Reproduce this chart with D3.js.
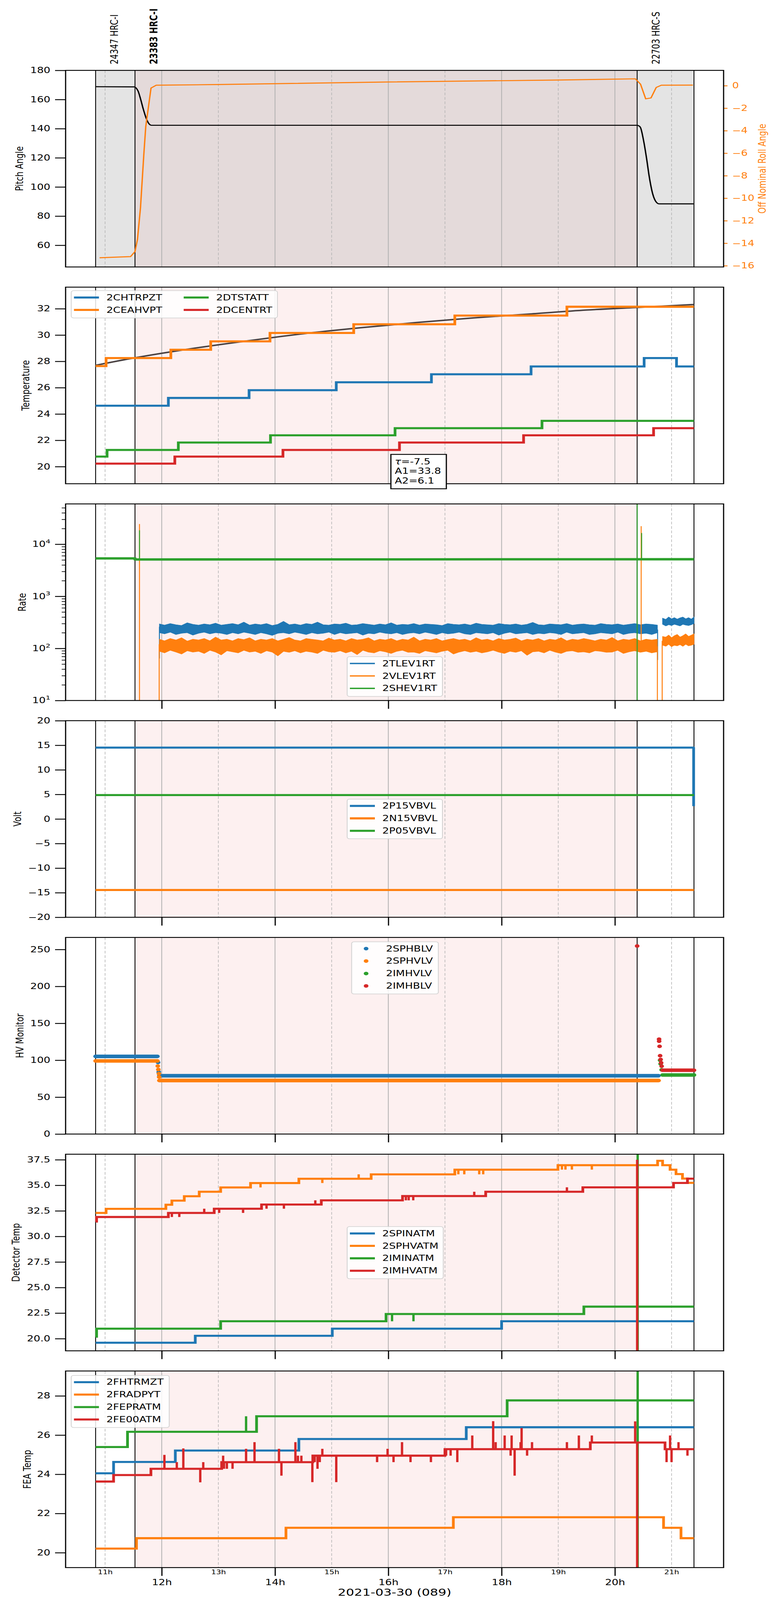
<!DOCTYPE html>
<html>
<head>
<meta charset="utf-8">
<script src="https://cdn.jsdelivr.net/npm/d3@7"></script>
<style>
  body { margin: 0; background: #fff; overflow: hidden; }
  svg { font-family: "DejaVu Sans", sans-serif; }
</style>
</head>
<body>
<script>
var width = 2000,
    height = 5400;

var left = 168, right = 1853, panelH = 663.5;
var tops = [237.5, 969.1, 1700.7, 2432.3, 3163.9, 3895.5, 4627.1];

var C = {blue: "#1f77b4", orange: "#ff7f0e", green: "#2ca02c", red: "#d62728"};

// observations (hours of 2021-03-30)
var obsIds = ["24347 HRC-I", "23383 HRC-I", "22703 HRC-S"];
var obsStart = [10.833, 11.528, 20.393];
var obsStop = [11.528, 20.393, 21.396];
var obsBold = [false, true, false];

var majorHours = [12, 14, 16, 18, 20];
var minorHours = [11, 13, 15, 17, 19, 21];

// panel 1: pitch / roll
var pitch = [[10.833,168.8],[11.51,168.7],[11.58,166],[11.626,160.4],[11.673,153.6],[11.73,146.7],[11.776,143.3],[11.82,142.3],
  [20.393,142.3],[20.446,141.2],[20.508,131.5],[20.56,119.4],[20.605,107.4],[20.667,95.3],[20.737,89.3],[20.781,88.4],[21.396,88.4]];
var roll = [[10.903,-15.29],[11.449,-15.19],[11.528,-14.74],[11.572,-13.65],[11.625,-10.84],[11.684,-6.1],[11.718,-3.64],[11.811,-0.21],
  [11.903,0.04],[13,0.1],[16,0.33],[19,0.5],[20.361,0.61],[20.453,0.13],[20.544,-1.17],[20.637,-1.09],[20.729,-0.16],[20.82,0.04],[21.377,0.05]];

// panel 2: temperatures
var chtrpzt = [[10.833,24.63],[12.117,25.22],[13.542,25.81],[15.081,26.41],[16.761,27.02],[18.52,27.61],[20.516,28.25],[21.088,27.61],[21.396,27.61]];
var ceahvpt = [[10.833,27.64],[11.018,28.25],[12.161,28.88],[12.865,29.52],[13.911,30.16],[15.389,30.82],[17.174,31.48],[19.153,32.15],[21.396,32.15]];
var dtstatt = [[10.833,20.76],[11.035,21.27],[12.293,21.83],[13.92,22.38],[16.119,22.92],[18.713,23.48],[21.396,23.48]];
var dcentrt = [[10.833,20.23],[12.231,20.76],[14.14,21.27],[16.197,21.83],[18.388,22.38],[20.683,22.92],[21.396,22.92]];
var fitTemp = [[10.833,27.7],[11.5,28.25],[12.5,28.95],[13.5,29.55],[14.5,30.1],[15.5,30.55],[16.5,30.95],[17.5,31.3],[18.5,31.6],[19.5,31.9],[20.5,32.12],[21.396,32.32]];
var fitText = ["=-7.5", "A1=33.8", "A2=6.1"];

// panel 3: rates (noisy bands as low / high envelopes)
var bandTimes = [11.96,12.05,12.15,12.25,12.35,12.45,12.55,12.65,12.75,12.85,12.95,13.05,13.15,13.25,13.35,13.45,13.55,13.65,13.75,13.85,
  13.95,14.05,14.15,14.25,14.35,14.45,14.55,14.65,14.75,14.85,14.95,15.05,15.15,15.25,15.35,15.45,15.55,15.65,15.75,15.85,
  15.95,16.05,16.15,16.25,16.35,16.45,16.55,16.65,16.75,16.85,16.95,17.05,17.15,17.25,17.35,17.45,17.55,17.65,17.75,17.85,
  17.95,18.05,18.15,18.25,18.35,18.45,18.55,18.65,18.75,18.85,18.95,19.05,19.15,19.25,19.35,19.45,19.55,19.65,19.75,19.85,
  19.95,20.05,20.15,20.25,20.35,20.45,20.55,20.65,20.75];
var tlevHi = [295,280,300,285,275,310,290,280,295,285,305,280,290,300,285,320,280,295,285,300,275,290,330,285,295,280,300,290,320,285,
  280,295,290,305,280,285,300,290,280,295,285,310,280,290,285,300,280,295,290,285,275,300,290,285,295,280,305,290,285,280,
  300,290,285,295,280,290,315,285,280,295,290,285,300,280,290,295,285,280,300,290,285,295,280,290,300,285,295,290,280];
var tlevLo = [200,190,205,185,195,200,180,195,205,190,200,195,185,200,190,205,195,185,200,190,178,195,200,190,205,195,185,200,190,195,
  205,185,200,190,195,200,180,195,190,205,195,190,200,185,195,200,190,205,195,185,200,190,195,205,190,185,200,195,190,200,
  180,195,205,190,195,200,185,195,190,200,195,185,205,190,195,200,185,190,200,195,190,205,185,195,200,190,195,185,200];
var vlevHi = [150,140,155,145,160,138,150,145,155,140,165,145,150,140,155,148,160,140,150,145,155,140,150,162,145,140,155,150,145,140,
  158,145,150,140,155,145,150,160,140,150,145,155,140,150,145,165,140,150,145,155,140,148,155,145,150,140,160,145,150,140,
  155,145,150,158,140,150,145,155,140,150,145,160,140,150,145,155,148,140,150,145,162,140,150,145,155,140,150,145,150];
var vlevLo = [88,82,92,85,78,90,85,88,80,92,85,75,90,86,82,92,85,88,80,90,85,72,88,84,90,82,88,85,80,92,
  86,84,90,82,88,76,92,85,82,90,86,80,88,92,84,85,80,90,86,82,88,92,78,85,90,84,88,82,86,92,
  85,80,88,84,90,74,86,88,82,92,85,80,88,90,84,86,82,90,88,84,85,92,80,86,90,84,88,82,86];
var bandTimes2 = [20.842,20.9,20.95,21.0,21.05,21.1,21.15,21.2,21.25,21.3,21.35,21.396];
var tlevHi2 = [380,360,400,370,390,365,385,400,370,390,365,400];
var tlevLo2 = [290,270,285,275,290,280,270,290,280,275,285,300];
var vlevHi2 = [170,165,180,160,175,185,165,175,190,170,180,190];
var vlevLo2 = [115,110,120,108,115,112,118,110,120,112,115,120];
var shev = [[10.833,5350],[11.528,5350],[11.528,5100],[21.396,5150]];
var tlevSpikes = [[11.959,64,260],[20.754,60,230]];
var vlevSpikes = [[11.607,1,24400],[11.955,1,120],[20.464,140,22200],[20.75,1,110],[20.835,1,140]];
var shevSpikes = [[11.607,5100,18500],[20.393,1,1e6],[20.472,5100,16400]];

// panel 4: volts
var p15vbvl = [[10.833,14.52],[21.39,14.52],[21.39,2.6]];
var n15vbvl = [[10.833,-14.45],[21.396,-14.45]];
var p05vbvl = [[10.833,4.86],[21.396,4.86]];

// panel 5: HV monitor (start, stop, level) and single samples
var sphblvSegs = [[10.833,11.923,105.2],[11.959,20.771,79.0]];
var sphblvDots = [[11.935,97.0],[11.947,84.0]];
var sphvlvSegs = [[10.833,11.923,99.0],[11.959,20.771,72.5]];
var sphvlvDots = [[11.93,92.1],[11.94,87.4],[11.95,81.8],[11.955,77.2]];
var imhvlvSegs = [[20.842,21.396,80.0]];
var imhvlvDots = [[20.798,100],[20.807,95],[20.825,87]];
var imhblvSegs = [[20.842,21.396,86.5]];
var imhblvDots = [[20.393,254.7],[20.78,128.5],[20.781,125.7],[20.789,118.8],[20.798,106.1],[20.807,101],[20.816,96.5],[20.825,91.9]];

// panel 6: detector temps
var spinatm = [[10.833,19.6],[12.592,20.28],[15.011,20.98],[18.0,21.7],[21.396,21.7]];
var sphvatm = [[10.833,32.3],[11.018,32.7],[12.073,33.1],[12.179,33.5],[12.398,33.93],[12.662,34.37],[13.04,34.79],[13.568,35.22],[14.421,35.64],
  [15.697,36.07],[17.174,36.53],[18.995,36.97],[20.754,37.4],[20.842,36.97],[20.974,36.53],[21.079,36.1],[21.193,35.66],[21.281,35.24],[21.396,35.24]];
var sphvatmSpikes = [[13.744,34.79],[14.835,35.22],[15.477,36.07],[17.236,36.07],[17.341,36.07],[17.605,36.07],[17.675,36.07],[19.065,36.53],[19.127,36.53],[19.241,36.53],[19.593,36.53]];
var iminatm = [[10.833,20.19],[10.85,20.98],[13.04,21.7],[15.96,22.41],[19.452,23.13],[21.396,23.13]];
var iminatmSpikes = [[16.066,21.7],[16.444,21.7],[20.402,60],[20.402,0]];
var imhvatm = [[10.833,31.46],[10.85,31.9],[12.117,32.3],[12.926,32.71],[13.762,33.12],[14.817,33.53],[16.251,33.95],[17.719,34.37],[19.434,34.8],[21.035,35.23],[21.281,35.65],[21.396,35.65]];
var imhvatmSpikes = [[12.179,31.9],[12.31,31.9],[12.75,32.71],[13.014,32.3],[13.436,32.3],[13.85,32.71],[14.157,32.71],[14.711,33.53],
  [16.31,33.53],[16.36,33.53],[16.44,33.53],[17.517,34.37],[19.153,34.8],[20.393,37.5],[20.393,0]];

// panel 7: FEA temps
var fhtrmzt = [[10.833,24.05],[11.15,24.63],[12.24,25.21],[14.421,25.8],[17.376,26.4],[21.396,26.4]];
var fradpyt = [[10.833,20.21],[11.554,20.74],[14.193,21.27],[17.148,21.81],[20.859,21.27],[21.167,20.74],[21.396,20.74]];
var fepratm = [[10.833,25.39],[11.396,26.17],[13.674,26.96],[18.098,27.77],[21.396,27.77]];
var fepratmSpikes = [[13.489,26.96],[20.402,40],[20.402,0]];
var fe00atm = [[10.833,23.63],[11.15,23.96],[11.809,24.28],[13.058,24.62],[14.667,24.95],[17.0,25.28],[19.566,25.62],[20.885,25.28],[21.396,25.28]];
var fe00atmSpikes = [[12.047,24.99],[12.266,24.62],[12.381,25.32],[12.68,23.59],[12.733,24.62],[13.084,24.95],[13.1,24.28],[13.15,24.28],[13.25,24.28],
  [13.489,25.3],[13.638,25.64],[14.07,25.3],[14.113,23.93],[14.36,25.64],[14.404,24.95],[14.465,24.95],[14.659,23.6],[14.7,24.62],[14.75,24.28],
  [14.79,24.62],[14.835,25.3],[15.081,23.6],[15.802,24.62],[15.987,25.3],[16.092,24.62],[16.242,25.64],[16.392,24.62],[16.752,24.62],[17.02,24.95],
  [17.1,24.95],[17.218,24.62],[17.482,25.98],[17.851,26.71],[17.895,25.64],[18.054,25.98],[18.159,24.95],[18.177,25.98],[18.23,23.93],[18.335,25.64],
  [18.353,26.36],[18.45,24.95],[18.537,25.64],[19.153,25.64],[19.364,25.98],[19.593,25.98],[20.358,26.7],[20.393,0],[20.912,24.62],[20.974,25.98],
  [21.0,24.62],[21.123,25.64],[21.281,24.95]];

// the window may be shorter than the figure: squeeze the whole figure into it
var viewH = Math.min(height, window.innerHeight || height);

var svg = d3.select("body").append("svg")
    .attr("width", width)
    .attr("height", viewH)
    .attr("viewBox", `0 0 ${width} ${height}`)
    .attr("preserveAspectRatio", "none")
    .style("display", "block");

var x = d3.scaleLinear().domain([10.303, 21.919]).range([left, right]);

function makeY(i, scale, dom) {
  return scale.domain(dom).range([tops[i] + panelH, tops[i]]);
}

var ys = [
  makeY(0, d3.scaleLinear(), [45.1, 180]),
  makeY(1, d3.scaleLinear(), [18.70, 33.64]),
  makeY(2, d3.scaleLog(), [10, 59400]),
  makeY(3, d3.scaleLinear(), [-20, 20]),
  makeY(4, d3.scaleLinear(), [0, 266.3]),
  makeY(5, d3.scaleLinear(), [18.81, 38.04]),
  makeY(6, d3.scaleLinear(), [19.24, 29.27])
];
var yRoll = d3.scaleLinear().domain([-16.11, 1.36]).range([tops[0] + panelH, tops[0]]);

var yLabels = ["Pitch Angle", "Temperature", "Rate", "Volt", "HV Monitor", "Detector Temp", "FEA Temp"];
var yLabelX = [50, 66, 57, 45, 51, 41, 70];
var yTicks = [d3.range(60, 181, 20), d3.range(20, 33, 2), [10, 100, 1000, 10000], d3.range(-20, 21, 5), d3.range(0, 251, 50), d3.range(20, 38, 2.5), d3.range(20, 29, 2)];

var defs = svg.append("defs");

function panel(i) {
  var top = tops[i], bottom = top + panelH;
  var g = svg.append("g");
  defs.append("clipPath").attr("id", "clip" + i)
    .append("rect").attr("x", left).attr("y", top).attr("width", right - left).attr("height", panelH);

  // observation shading
  obsIds.forEach(function(id, k) {
    var fill = null;
    if (i == 0) fill = k == 1 ? "#e4dada" : "#e4e4e4";
    else if (k == 1) fill = "#fdf0f0";
    if (fill) g.append("rect")
      .attr("x", x(obsStart[k])).attr("y", top)
      .attr("width", x(obsStop[k]) - x(obsStart[k])).attr("height", panelH)
      .attr("fill", fill);
  });

  // hour grid
  majorHours.forEach(function(h) {
    g.append("line").attr("x1", x(h)).attr("x2", x(h)).attr("y1", top).attr("y2", bottom)
      .attr("stroke", "#b0b0b0").attr("stroke-width", 2);
  });
  minorHours.forEach(function(h) {
    g.append("line").attr("x1", x(h)).attr("x2", x(h)).attr("y1", top).attr("y2", bottom)
      .attr("stroke", "#b4b4b4").attr("stroke-width", 1.6).attr("stroke-dasharray", "9,6");
  });

  // observation boundaries
  obsStart.concat([obsStop[2]]).forEach(function(t) {
    g.append("line").attr("x1", x(t)).attr("x2", x(t)).attr("y1", top).attr("y2", bottom)
      .attr("stroke", "#000").attr("stroke-width", 2.2);
  });

  var data = g.append("g").attr("clip-path", "url(#clip" + i + ")");

  // left axis
  var y = ys[i];
  var fmt = i == 5 ? d3.format(".1f") : (i == 2 ? () => "10" : d => String(d).replace("-", "\u2212"));
  var ax = svg.append("g").attr("transform", `translate(${left},0)`)
    .call(d3.axisLeft(y).tickValues(yTicks[i]).tickSize(27).tickPadding(12).tickFormat(fmt));
  ax.select(".domain").remove();
  ax.attr("font-size", 27).attr("font-family", "DejaVu Sans");
  ax.selectAll("line").attr("stroke-width", 3);
  if (i == 2) {
    ax.selectAll(".tick text").each(function(d) {
      d3.select(this).append("tspan").attr("dy", -12).attr("font-size", 19).text(Math.round(Math.log10(d)));
    });
    var minors = [];
    [10, 100, 1000, 10000].forEach(function(dec) {
      d3.range(2, 10).forEach(function(m) { if (dec * m < 59400) minors.push(dec * m); });
    });
    var mx = svg.append("g").attr("transform", `translate(${left},0)`)
      .call(d3.axisLeft(y).tickValues(minors).tickSize(10).tickFormat(""));
    mx.select(".domain").remove();
    mx.selectAll("text").remove();
    mx.selectAll("line").attr("stroke-width", 2.2);
  }

  // y label
  svg.append("text")
    .attr("transform", `translate(${yLabelX[i]},${top + panelH / 2}) rotate(-90)`)
    .attr("text-anchor", "middle").attr("dy", "0.35em")
    .attr("font-size", 27)
    .text(yLabels[i]);

  // x ticks under lower panels
  if (i >= 2) {
    var bx = svg.append("g").attr("transform", `translate(0,${bottom})`)
      .call(d3.axisBottom(x).tickValues(majorHours).tickSize(28).tickPadding(12)
        .tickFormat(h => h + "h"));
    bx.select(".domain").remove();
    bx.attr("font-size", 27).attr("font-family", "DejaVu Sans");
    bx.selectAll("line").attr("stroke-width", 3);
    if (i < 6) bx.selectAll("text").remove();
    if (i == 6) {
      var mb = svg.append("g").attr("transform", `translate(0,${bottom})`)
        .call(d3.axisBottom(x).tickValues(minorHours).tickSize(0).tickPadding(8).tickFormat(h => h + "h"));
      mb.select(".domain").remove();
      mb.attr("font-size", 20).attr("font-family", "DejaVu Sans");
    }
  }

  return {g: g, data: data, y: y, top: top, bottom: bottom};
}

function frame(p) {
  svg.append("rect").attr("x", left).attr("y", p.top).attr("width", right - left).attr("height", panelH)
    .attr("fill", "none").attr("stroke", "#000").attr("stroke-width", 3);
}

function plotLine(g, y, data, color, w, curve) {
  g.append("path").datum(data)
    .attr("fill", "none").attr("stroke", color).attr("stroke-width", w)
    .attr("stroke-linejoin", "round")
    .attr("d", d3.line().curve(curve || d3.curveLinear).x(d => x(d[0])).y(d => y(d[1])));
}

function stepLine(g, y, data, color, w) {
  g.append("path").datum(data)
    .attr("fill", "none").attr("stroke", color).attr("stroke-width", w)
    .attr("d", d3.line().curve(d3.curveStepAfter).x(d => x(d[0])).y(d => y(d[1])));
}

var bisect = d3.bisector(d => d[0]).right;
function spikes(g, y, steps, list, color, w) {
  list.forEach(function(s) {
    var base = steps[Math.max(0, bisect(steps, s[0]) - 1)][1];
    g.append("line").attr("x1", x(s[0])).attr("x2", x(s[0]))
      .attr("y1", y(base)).attr("y2", y(s[1]))
      .attr("stroke", color).attr("stroke-width", w);
  });
}

function vlines(g, y, list, color, w) {
  list.forEach(function(s) {
    g.append("line").attr("x1", x(s[0])).attr("x2", x(s[0]))
      .attr("y1", y(s[1])).attr("y2", y(s[2]))
      .attr("stroke", color).attr("stroke-width", w);
  });
}

function band(g, y, times, lo, hi, color) {
  var rows = d3.zip(times, lo, hi);
  g.append("path").datum(rows)
    .attr("fill", color).attr("stroke", color).attr("stroke-width", 1.5)
    .attr("d", d3.area().x(d => x(d[0])).y0(d => y(d[1])).y1(d => y(d[2])));
}

function segs(g, y, list, color, w) {
  list.forEach(function(s) {
    g.append("line").attr("x1", x(s[0])).attr("x2", x(s[1]))
      .attr("y1", y(s[2])).attr("y2", y(s[2]))
      .attr("stroke", color).attr("stroke-width", w).attr("stroke-linecap", "round");
  });
}

function dots(g, y, list, color) {
  g.selectAll(null).data(list).enter().append("circle")
    .attr("cx", d => x(d[0])).attr("cy", d => y(d[1])).attr("r", 6)
    .attr("fill", color);
}

function legend(names, colors, bx, by, bw, cols, kind, lw) {
  var rows = Math.ceil(names.length / cols);
  var bh = 22 + (rows - 1) * 42 + 28;
  var lg = svg.append("g");
  lg.append("rect").attr("x", bx).attr("y", by).attr("width", bw).attr("height", bh)
    .attr("rx", 6).attr("fill", "#fff").attr("fill-opacity", 0.85)
    .attr("stroke", "#d0d0d0").attr("stroke-width", 2);
  names.forEach(function(n, k) {
    var c = Math.floor(k / rows), r = k % rows;
    var hx = bx + 7 + c * 281, ry = by + 23 + r * 42;
    if (kind == "dot") {
      lg.append("circle").attr("cx", hx + 30).attr("cy", ry).attr("r", 6).attr("fill", colors[k]);
    } else {
      lg.append("line").attr("x1", hx).attr("x2", hx + 64).attr("y1", ry).attr("y2", ry)
        .attr("stroke", colors[k]).attr("stroke-width", lw);
    }
    lg.append("text").attr("x", kind == "dot" ? hx + 81 : hx + 83).attr("y", ry).attr("dy", "0.35em")
      .attr("font-size", 27).text(n);
  });
}

var cols4 = [C.blue, C.orange, C.green, C.red];

// ---- panel 1: pitch & roll
var p1 = panel(0);
plotLine(p1.data, p1.y, pitch, "#000", 3.5, d3.curveMonotoneX);
plotLine(p1.data, yRoll, roll, C.orange, 3.5);
var rax = svg.append("g").attr("transform", `translate(${right},0)`)
  .call(d3.axisRight(yRoll).tickValues(d3.range(-16, 1, 2)).tickSize(10).tickPadding(12)
    .tickFormat(d => d < 0 ? "\u2212" + Math.abs(d) : d));
rax.select(".domain").remove();
rax.attr("font-size", 27).attr("font-family", "DejaVu Sans");
rax.selectAll("line").attr("stroke", C.orange).attr("stroke-width", 3);
rax.selectAll("text").attr("fill", C.orange);
svg.append("text")
  .attr("transform", `translate(1952,${tops[0] + panelH / 2}) rotate(-90)`)
  .attr("text-anchor", "middle").attr("dy", "0.35em")
  .attr("font-size", 27).attr("fill", C.orange)
  .text("Off Nominal Roll Angle");
frame(p1);

// observation labels
obsIds.forEach(function(id, k) {
  svg.append("text")
    .attr("transform", `translate(${x(obsStart[k]) + 57},217) rotate(-90)`)
    .attr("font-size", 27)
    .attr("font-weight", obsBold[k] ? "bold" : "normal")
    .text(id);
});

// ---- panel 2: temperatures
var p2 = panel(1);
plotLine(p2.data, p2.y, fitTemp, "#4a4242", 5, d3.curveMonotoneX);
stepLine(p2.data, p2.y, chtrpzt, C.blue, 7);
stepLine(p2.data, p2.y, ceahvpt, C.orange, 7);
stepLine(p2.data, p2.y, dtstatt, C.green, 7);
stepLine(p2.data, p2.y, dcentrt, C.red, 7);
frame(p2);
legend(["2CHTRPZT", "2CEAHVPT", "2DTSTATT", "2DCENTRT"], cols4, 182.4, 981, 528, 2, "line", 7);
var ann = svg.append("g");
ann.append("rect").attr("x", 1001).attr("y", 1533.6).attr("width", 142).attr("height", 116)
  .attr("fill", "#fff").attr("stroke", "#000").attr("stroke-width", 3);
fitText.forEach(function(s, k) {
  var t = ann.append("text").attr("x", 1011).attr("y", 1567 + k * 32.5).attr("font-size", 27);
  if (k == 0) t.append("tspan").attr("font-style", "italic").text("\u03c4");
  t.append("tspan").text(s);
});

// ---- panel 3: rates
var p3 = panel(2);
band(p3.data, p3.y, bandTimes, tlevLo, tlevHi, C.blue);
band(p3.data, p3.y, bandTimes2, tlevLo2, tlevHi2, C.blue);
vlines(p3.data, p3.y, tlevSpikes, C.blue, 2.5);
band(p3.data, p3.y, bandTimes, vlevLo, vlevHi, C.orange);
band(p3.data, p3.y, bandTimes2, vlevLo2, vlevHi2, C.orange);
vlines(p3.data, p3.y, vlevSpikes, C.orange, 2.5);
plotLine(p3.data, p3.y, shev, C.green, 8);
vlines(p3.data, p3.y, shevSpikes, C.green, 2.5);
frame(p3);
legend(["2TLEV1RT", "2VLEV1RT", "2SHEV1RT"], [C.blue, C.orange, C.green], 889, 2216.3, 244, 1, "line", 4.5);

// ---- panel 4: volts
var p4 = panel(3);
plotLine(p4.data, p4.y, p15vbvl, C.blue, 7);
plotLine(p4.data, p4.y, n15vbvl, C.orange, 7);
plotLine(p4.data, p4.y, p05vbvl, C.green, 7);
frame(p4);
legend(["2P15VBVL", "2N15VBVL", "2P05VBVL"], [C.blue, C.orange, C.green], 889, 2697, 244, 1, "line", 7);

// ---- panel 5: HV monitor
var p5 = panel(4);
segs(p5.data, p5.y, sphblvSegs, C.blue, 12); dots(p5.data, p5.y, sphblvDots, C.blue);
segs(p5.data, p5.y, sphvlvSegs, C.orange, 12); dots(p5.data, p5.y, sphvlvDots, C.orange);
segs(p5.data, p5.y, imhvlvSegs, C.green, 12); dots(p5.data, p5.y, imhvlvDots, C.green);
segs(p5.data, p5.y, imhblvSegs, C.red, 12); dots(p5.data, p5.y, imhblvDots, C.red);
frame(p5);
legend(["2SPHBLV", "2SPHVLV", "2IMHVLV", "2IMHBLV"], cols4, 900.5, 3178.6, 222, 1, "dot");

// ---- panel 6: detector temps
var p6 = panel(5);
stepLine(p6.data, p6.y, spinatm, C.blue, 7);
stepLine(p6.data, p6.y, sphvatm, C.orange, 7);
spikes(p6.data, p6.y, sphvatm, sphvatmSpikes, C.orange, 6);
stepLine(p6.data, p6.y, iminatm, C.green, 7);
spikes(p6.data, p6.y, iminatm, iminatmSpikes, C.green, 6);
stepLine(p6.data, p6.y, imhvatm, C.red, 7);
spikes(p6.data, p6.y, imhvatm, imhvatmSpikes, C.red, 6);
frame(p6);
legend(["2SPINATM", "2SPHVATM", "2IMINATM", "2IMHVATM"], cols4, 889, 4139.8, 246, 1, "line", 7);

// ---- panel 7: FEA temps
var p7 = panel(6);
stepLine(p7.data, p7.y, fhtrmzt, C.blue, 7);
stepLine(p7.data, p7.y, fradpyt, C.orange, 7);
stepLine(p7.data, p7.y, fepratm, C.green, 7);
spikes(p7.data, p7.y, fepratm, fepratmSpikes, C.green, 6);
stepLine(p7.data, p7.y, fe00atm, C.red, 7);
spikes(p7.data, p7.y, fe00atm, fe00atmSpikes, C.red, 6);
frame(p7);
legend(["2FHTRMZT", "2FRADPYT", "2FEPRATM", "2FE00ATM"], cols4, 182.4, 4641.8, 251, 1, "line", 7);

svg.append("text")
  .attr("x", (left + right) / 2).attr("y", 5385)
  .attr("text-anchor", "middle").attr("font-size", 33)
  .text("2021-03-30 (089)");
</script>
</body>
</html>
